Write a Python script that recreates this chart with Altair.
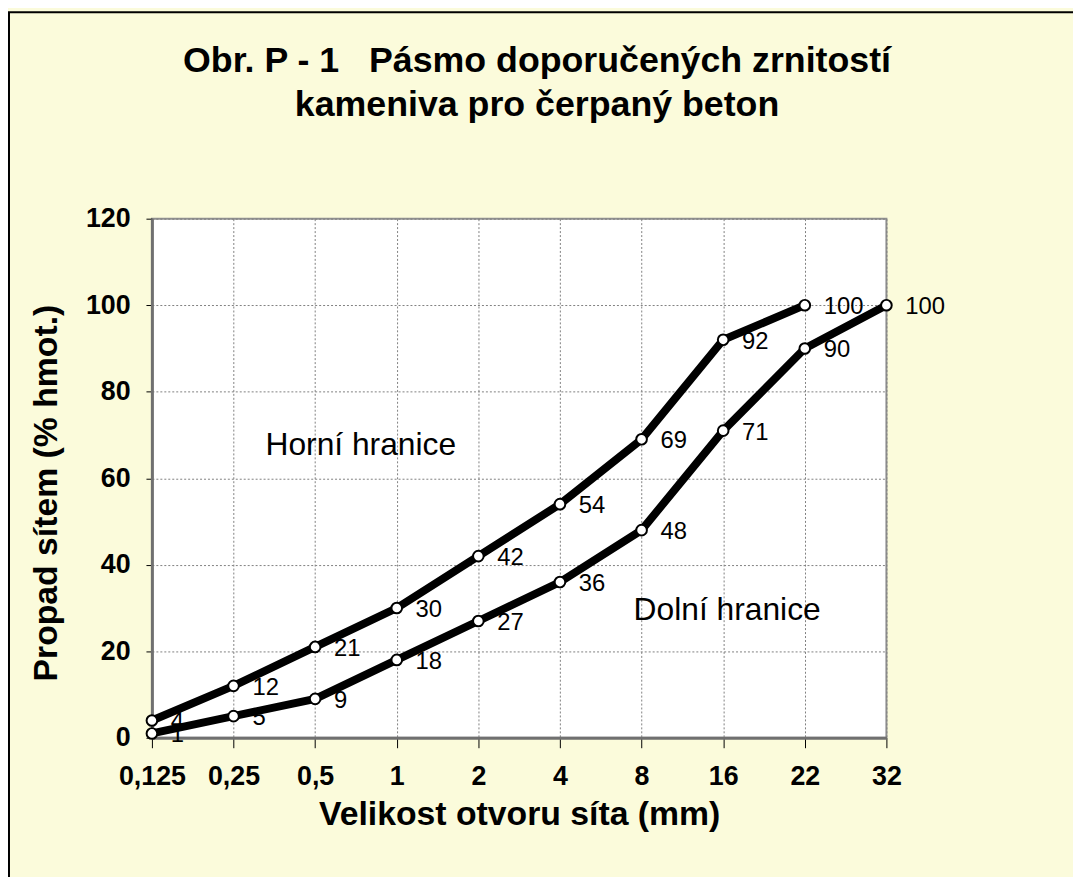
import altair as alt
import pandas as pd

sizes = ["0,125", "0,25", "0,5", "1", "2", "4", "8", "16", "22", "32"]
upper = [4, 12, 21, 30, 42, 54, 69, 92, 100]
lower = [1, 5, 9, 18, 27, 36, 48, 71, 90, 100]
title_lines = ["Obr. P - 1 \u00a0\u00a0Pásmo doporučených zrnitostí", "kameniva pro čerpaný beton"]
ann_text = ["Horní hranice", "Dolní hranice"]
ann_size = ["0,5", "16"]
ann_value = [67.7, 29.6]

rows = []
for s, v in zip(sizes, upper):
    rows.append({"size": s, "value": v, "series": "Horní hranice"})
for s, v in zip(sizes, lower):
    rows.append({"size": s, "value": v, "series": "Dolní hranice"})
df = pd.DataFrame(rows)

FONT = "Liberation Sans"

x = alt.X("size:N", sort=sizes, title="Velikost otvoru síta (mm)",
          scale=alt.Scale(type="point", padding=0),
          axis=alt.Axis(labelAngle=0, tickSize=10, tickColor="black",
                        labelFontSize=27, labelFontWeight="bold", labelPadding=16,
                        titleFontSize=34, titleFontWeight="bold", titlePadding=8,
                        grid=True, gridDash=[2, 2], gridColor="#808080",
                        domainColor="#707070", domainWidth=3))
y = alt.Y("value:Q", title="Propad sítem (% hmot.)",
          scale=alt.Scale(domain=[0, 120]),
          axis=alt.Axis(values=[0, 20, 40, 60, 80, 100, 120], tickSize=6,
                        tickColor="black", labelFontSize=27, labelFontWeight="bold",
                        labelPadding=16, titleFontSize=34, titleFontWeight="bold",
                        titlePadding=22, titleY=276, grid=True, gridDash=[2, 2],
                        gridColor="#808080", domainColor="#707070", domainWidth=3))

base = alt.Chart(df).encode(x=x, y=y, detail="series:N")

labels = base.mark_text(align="left", baseline="middle", dx=19, dy=2,
                        fontSize=24, font=FONT, color="black").encode(text="value:Q")
lines = base.mark_line(color="black", strokeWidth=8)
points = base.mark_point(shape="circle", filled=True, fill="white", stroke="black",
                         strokeWidth=2, size=115, opacity=1)

annot_h = alt.Chart(pd.DataFrame({"size": [ann_size[0]], "value": [ann_value[0]], "text": [ann_text[0]]})
                    ).mark_text(fontSize=32, font=FONT, color="black",
                                align="center", baseline="middle", dx=46).encode(
    x=alt.X("size:N", sort=sizes), y="value:Q", text="text:N")
annot_d = alt.Chart(pd.DataFrame({"size": [ann_size[1]], "value": [ann_value[1]], "text": [ann_text[1]]})
                    ).mark_text(fontSize=32, font=FONT, color="black",
                                align="center", baseline="middle", dx=4).encode(
    x=alt.X("size:N", sort=sizes), y="value:Q", text="text:N")

one = pd.DataFrame({"a": [0]})
frame = alt.Chart(one).mark_rect(
    fill=None, fillOpacity=0, stroke="black", strokeWidth=2, clip=False).encode(
    x=alt.value(-144), x2=alt.value(1000), y=alt.value(-208), y2=alt.value(800))

title = alt.Chart(one).mark_text(
    fontSize=36, fontWeight="bold", font=FONT, color="black", align="center",
    baseline="alphabetic", lineHeight=45).encode(
    x=alt.value(388), y=alt.value(-148), text=alt.value(title_lines))

chart = alt.layer(frame, title, labels, lines, points, annot_h, annot_d).properties(
    width=740, height=523,
    autosize=alt.AutoSizeParams(type="none"),
    padding={"left": 145, "top": 209, "right": 188, "bottom": 137},
    background="#FBFBDB",
).configure_view(stroke="#909090", strokeWidth=2, fill="white").configure_axis(
    labelFont=FONT, titleFont=FONT, labelColor="black", titleColor="black"
)

chart.save("out.html", embed_options={"renderer": "svg", "actions": False})
